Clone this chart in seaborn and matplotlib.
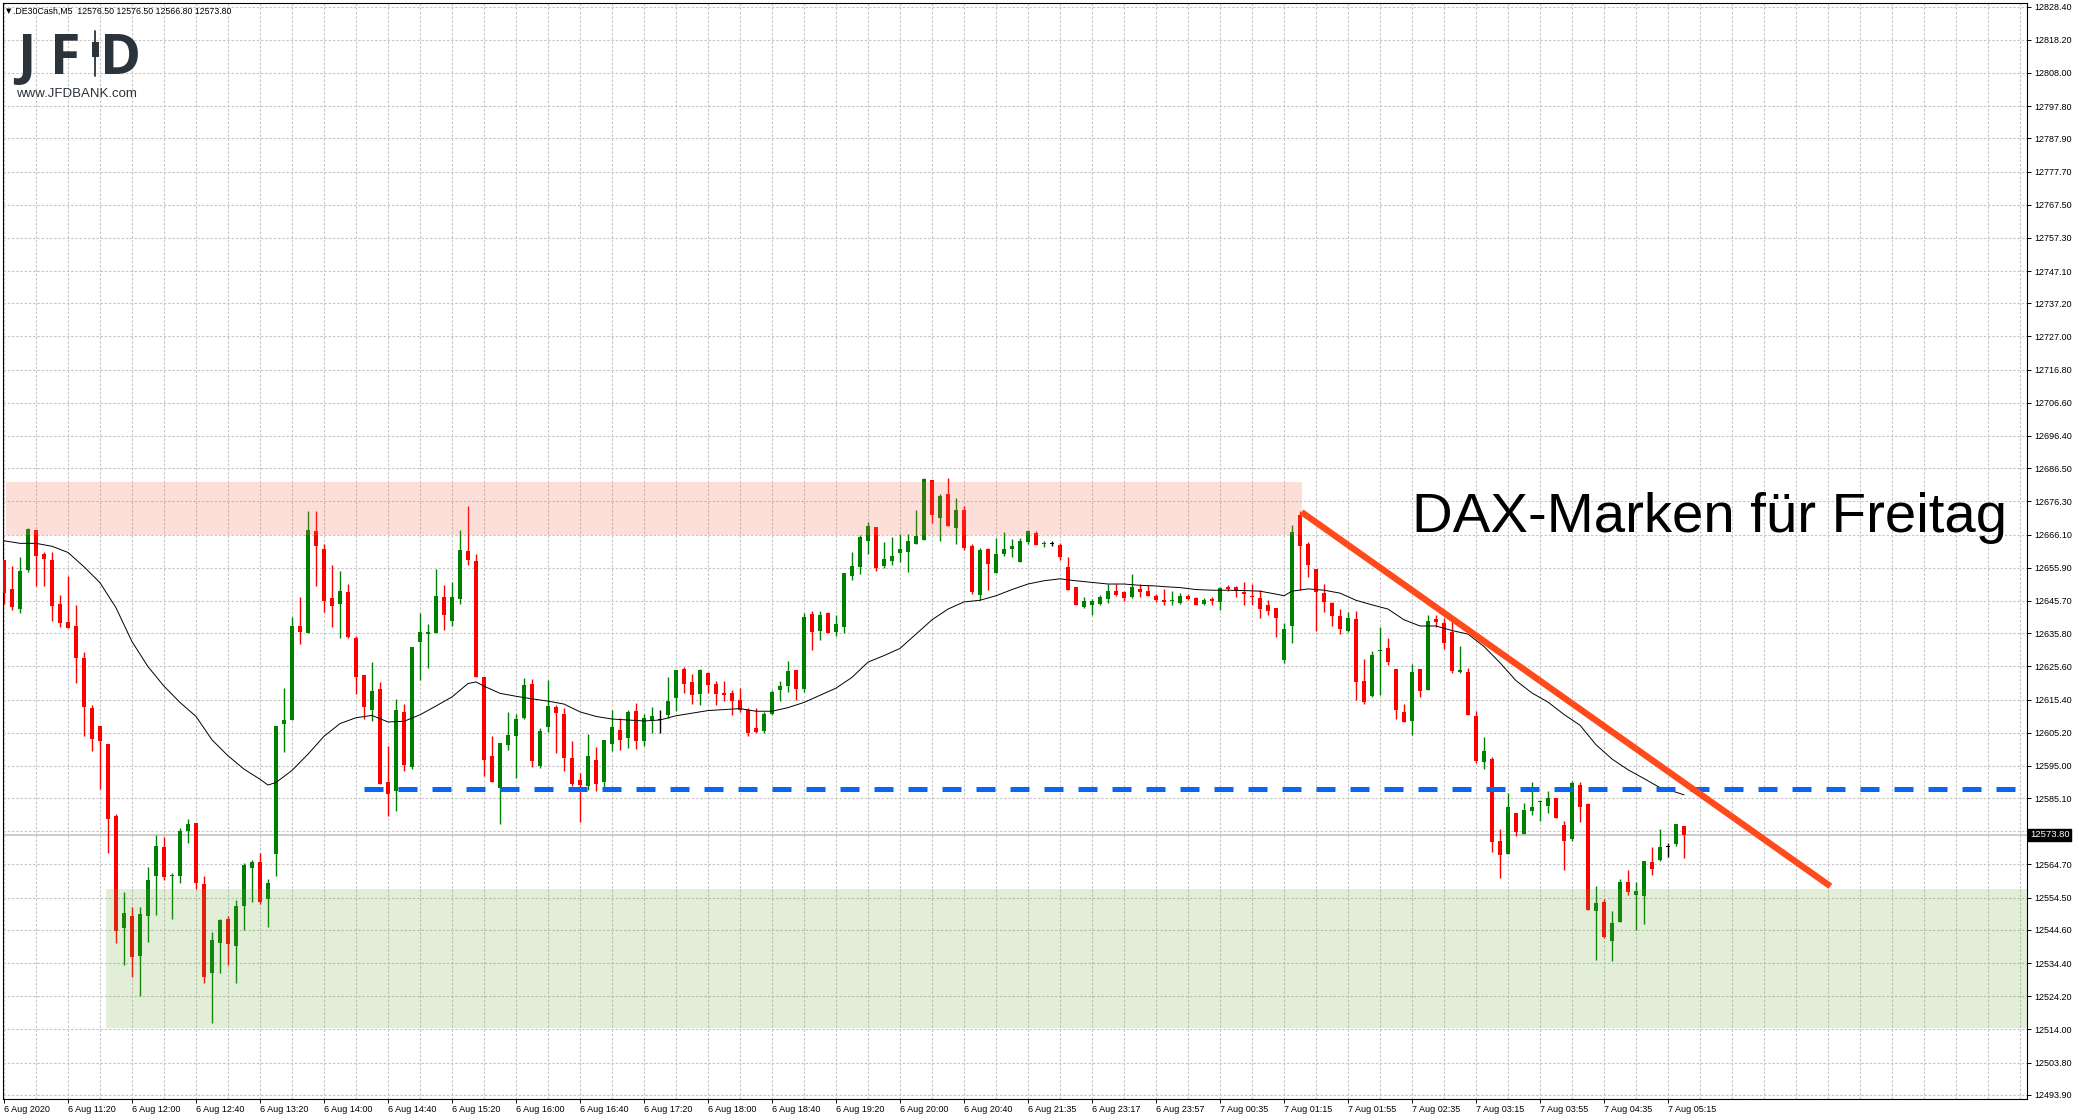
import matplotlib
matplotlib.use("Agg")
import matplotlib.pyplot as plt
import matplotlib.transforms as mtransforms
from matplotlib.patches import Rectangle
from matplotlib.lines import Line2D
import numpy as np
import pandas as pd
import seaborn as sns

# --- DE30 M5 candles, 6 Aug 10:40 -> 7 Aug 05:25 ---
opens = [12658.4, 12649.3, 12643.3, 12655.1, 12667.4, 12660.1, 12658.2, 12644.7, 12639.2, 12637.9,
         12628.1, 12612.8, 12607.3, 12601.7, 12579.7, 12545.3, 12548.9, 12536.6, 12548.7, 12561.0,
         12570.1, 12561.1, 12561.0, 12575.0, 12577.5, 12558.7, 12531.2, 12540.7, 12548.0, 12539.7,
         12552.0, 12563.7, 12565.5, 12554.2, 12568.0, 12608.0, 12609.1, 12637.9, 12635.7, 12667.1,
         12661.6, 12646.6, 12644.7, 12648.4, 12634.3, 12622.9, 12612.2, 12618.6, 12590.1, 12587.3,
         12611.6, 12594.8, 12633.2, 12635.4, 12635.7, 12646.9, 12639.4, 12646.4, 12660.9, 12657.9,
         12622.3, 12598.0, 12588.1, 12601.4, 12604.1, 12609.8, 12620.1, 12595.0, 12606.9, 12613.1,
         12610.9, 12597.3, 12590.8, 12588.8, 12596.9, 12589.9, 12601.7, 12606.0, 12603.6, 12611.8,
         12602.7, 12609.1, 12609.0, 12610.7, 12616.0, 12624.7, 12620.9, 12617.1, 12623.4, 12620.3,
         12617.3, 12617.3, 12615.1, 12612.3, 12606.5, 12605.8, 12611.0, 12618.4, 12619.5, 12624.4,
         12618.6, 12641.7, 12636.5, 12642.0, 12636.2, 12637.6, 12653.5, 12656.2, 12664.1, 12668.5,
         12656.3, 12658.0, 12660.4, 12660.7, 12663.1, 12664.3, 12682.9, 12671.1, 12678.7, 12668.2,
         12673.7, 12662.7, 12647.6, 12661.8, 12654.4, 12660.0, 12661.8, 12657.6, 12663.8, 12666.6,
         12663.2, 12663.2, 12662.9, 12656.0, 12650.1, 12643.7, 12644.6, 12644.8, 12646.2, 12648.7,
         12648.3, 12646.8, 12649.4, 12648.9, 12647.3, 12645.9, 12645.6, 12645.1, 12647.3, 12646.5,
         12644.8, 12646.2, 12645.4, 12650.1, 12650.1, 12648.3, 12647.3, 12646.5, 12644.3, 12643.4,
         12627.5, 12638.0, 12672.2, 12663.2, 12655.6, 12648.1, 12645.1, 12641.2, 12636.4, 12640.2,
         12621.0, 12616.5, 12630.3, 12631.1, 12624.8, 12611.7, 12608.9, 12624.8, 12618.3, 12640.2,
         12639.0, 12636.0, 12624.0, 12624.0, 12610.3, 12596.2, 12597.1, 12571.9, 12567.8, 12580.6,
         12574.1, 12581.2, 12583.9, 12582.8, 12585.0, 12576.8, 12572.4, 12589.1, 12583.2, 12550.5,
         12553.2, 12541.2, 12547.0, 12559.2, 12555.4, 12555.1, 12565.6, 12566.0, 12570.0, 12571.0,
         12576.5]
highs = [12658.4, 12656.3, 12659.2, 12668.1, 12667.4, 12660.8, 12660.8, 12647.5, 12653.3, 12644.4,
         12629.9, 12613.7, 12607.3, 12601.7, 12580.3, 12556.1, 12551.7, 12551.5, 12564.0, 12573.9,
         12573.2, 12562.1, 12575.8, 12578.7, 12577.5, 12561.1, 12544.0, 12548.0, 12548.7, 12553.7,
         12565.1, 12566.2, 12568.3, 12560.2, 12607.2, 12618.9, 12640.9, 12646.9, 12673.2, 12673.2,
         12663.1, 12656.8, 12654.8, 12651.0, 12634.8, 12622.9, 12626.9, 12620.8, 12601.0, 12615.5,
         12614.0, 12631.5, 12642.0, 12638.7, 12655.5, 12650.5, 12651.5, 12667.4, 12674.8, 12660.1,
         12622.3, 12604.1, 12601.9, 12611.6, 12610.9, 12622.0, 12621.7, 12606.6, 12621.3, 12613.8,
         12612.9, 12602.5, 12592.9, 12604.7, 12600.8, 12602.8, 12612.1, 12609.6, 12612.3, 12614.2,
         12610.9, 12613.2, 12612.3, 12622.2, 12624.4, 12625.5, 12623.1, 12624.7, 12623.9, 12621.1,
         12621.1, 12618.4, 12618.9, 12612.9, 12612.9, 12611.6, 12618.4, 12621.1, 12627.2, 12624.4,
         12642.0, 12642.5, 12642.5, 12642.3, 12641.4, 12654.3, 12660.6, 12665.9, 12669.9, 12668.5,
         12663.7, 12665.3, 12666.2, 12666.2, 12673.7, 12683.5, 12682.9, 12678.6, 12683.5, 12677.2,
         12674.8, 12663.1, 12662.1, 12662.1, 12664.9, 12666.8, 12664.6, 12664.9, 12667.5, 12667.1,
         12664.2, 12664.0, 12663.5, 12659.1, 12650.1, 12647.0, 12646.2, 12647.6, 12650.9, 12650.9,
         12648.9, 12654.1, 12650.9, 12650.6, 12647.8, 12649.4, 12648.7, 12648.1, 12647.8, 12646.8,
         12646.5, 12646.8, 12650.1, 12650.5, 12650.3, 12651.4, 12650.9, 12649.2, 12645.9, 12643.4,
         12639.0, 12668.9, 12673.3, 12663.8, 12655.6, 12650.9, 12645.4, 12643.2, 12642.4, 12642.6,
         12628.0, 12630.3, 12637.7, 12634.4, 12624.8, 12614.1, 12626.2, 12624.8, 12641.5, 12641.5,
         12640.6, 12639.5, 12631.9, 12625.1, 12611.9, 12603.9, 12597.6, 12575.7, 12586.7, 12580.6,
         12583.6, 12590.0, 12584.5, 12587.2, 12585.0, 12578.1, 12590.5, 12590.0, 12583.7, 12558.2,
         12554.1, 12550.3, 12560.3, 12563.1, 12559.2, 12565.8, 12570.0, 12575.7, 12571.3, 12577.0,
         12576.5]
lows = [12644.7, 12642.8, 12642.0, 12654.6, 12650.2, 12650.2, 12639.6, 12637.6, 12637.5, 12620.6,
        12604.1, 12599.7, 12588.0, 12568.1, 12540.5, 12533.7, 12530.0, 12524.4, 12541.0, 12549.3,
        12560.0, 12547.8, 12559.1, 12571.4, 12557.3, 12528.4, 12516.1, 12531.2, 12533.7, 12528.2,
        12544.7, 12553.1, 12552.6, 12545.6, 12561.3, 12599.4, 12609.1, 12632.4, 12635.7, 12650.4,
        12642.4, 12637.8, 12634.3, 12634.3, 12617.1, 12609.3, 12608.7, 12589.5, 12579.7, 12581.1,
        12593.4, 12593.9, 12621.3, 12625.0, 12635.7, 12636.8, 12637.9, 12644.7, 12656.8, 12622.2,
        12592.0, 12589.9, 12577.2, 12600.0, 12591.4, 12609.4, 12594.8, 12594.2, 12605.5, 12599.1,
        12593.4, 12588.8, 12577.6, 12587.7, 12587.3, 12587.7, 12599.5, 12600.0, 12600.6, 12600.3,
        12601.0, 12605.2, 12605.2, 12609.6, 12611.8, 12617.3, 12614.0, 12613.8, 12617.3, 12613.8,
        12614.9, 12610.7, 12611.6, 12604.3, 12605.2, 12605.2, 12610.7, 12614.9, 12617.7, 12615.1,
        12617.8, 12630.7, 12633.7, 12635.7, 12634.8, 12635.7, 12652.1, 12654.0, 12660.1, 12654.8,
        12655.8, 12656.9, 12657.6, 12654.7, 12663.1, 12664.3, 12669.8, 12664.2, 12668.7, 12663.1,
        12661.3, 12647.8, 12645.9, 12649.0, 12654.4, 12659.4, 12659.1, 12657.6, 12663.1, 12662.9,
        12662.4, 12662.6, 12658.3, 12649.0, 12644.3, 12643.5, 12641.5, 12644.3, 12645.0, 12647.3,
        12645.7, 12646.5, 12646.8, 12647.2, 12645.4, 12644.3, 12644.3, 12644.8, 12646.1, 12644.3,
        12644.6, 12644.3, 12642.9, 12648.9, 12646.8, 12644.3, 12644.3, 12640.4, 12641.3, 12634.6,
        12626.7, 12632.7, 12649.0, 12653.0, 12636.6, 12642.3, 12638.0, 12635.5, 12636.0, 12615.2,
        12614.1, 12616.1, 12616.8, 12625.9, 12609.4, 12608.4, 12604.4, 12616.3, 12618.3, 12637.7,
        12630.8, 12623.4, 12623.6, 12610.6, 12596.0, 12594.0, 12568.6, 12560.6, 12567.8, 12573.5,
        12574.1, 12579.9, 12578.1, 12580.6, 12579.0, 12563.1, 12571.9, 12577.9, 12550.7, 12535.4,
        12542.2, 12535.1, 12547.0, 12555.4, 12544.4, 12546.3, 12561.4, 12565.8, 12566.9, 12570.5,
        12566.8]
closes = [12648.2, 12643.9, 12654.8, 12667.7, 12659.5, 12658.6, 12644.2, 12638.9, 12637.5, 12628.3,
          12613.2, 12603.3, 12602.7, 12578.8, 12544.3, 12549.8, 12536.1, 12549.6, 12560.0, 12570.4,
          12560.7, 12561.5, 12575.0, 12577.1, 12559.1, 12530.0, 12541.6, 12547.6, 12540.1, 12551.9,
          12564.6, 12565.5, 12553.3, 12559.0, 12607.2, 12609.1, 12637.9, 12636.3, 12667.4, 12662.5,
          12645.7, 12644.2, 12648.7, 12634.6, 12622.4, 12613.2, 12618.1, 12589.5, 12586.5, 12612.1,
          12595.3, 12631.5, 12636.2, 12636.2, 12647.1, 12641.4, 12646.9, 12661.3, 12658.3, 12622.4,
          12596.8, 12589.9, 12601.9, 12604.4, 12609.4, 12619.8, 12596.4, 12605.6, 12613.3, 12611.1,
          12597.5, 12589.5, 12589.2, 12598.0, 12589.5, 12602.8, 12607.1, 12603.0, 12611.5, 12602.5,
          12609.8, 12610.4, 12609.0, 12614.9, 12624.4, 12620.3, 12616.8, 12624.4, 12619.8, 12617.1,
          12616.7, 12614.8, 12612.3, 12605.2, 12605.5, 12610.9, 12617.8, 12619.7, 12624.1, 12618.6,
          12640.9, 12636.2, 12641.4, 12635.9, 12638.7, 12654.3, 12656.4, 12665.3, 12668.8, 12655.9,
          12658.7, 12659.6, 12661.8, 12664.2, 12665.7, 12683.2, 12672.0, 12678.1, 12668.7, 12673.6,
          12662.0, 12648.4, 12661.5, 12657.1, 12660.0, 12661.8, 12662.7, 12664.0, 12667.1, 12662.9,
          12663.5, 12663.2, 12659.3, 12649.2, 12644.3, 12645.6, 12645.6, 12646.8, 12648.7, 12647.6,
          12646.5, 12650.1, 12648.3, 12647.2, 12646.1, 12645.4, 12645.8, 12647.3, 12646.2, 12644.5,
          12645.9, 12645.6, 12649.8, 12649.4, 12648.9, 12647.8, 12646.9, 12643.2, 12642.6, 12640.4,
          12637.1, 12666.8, 12662.7, 12656.6, 12648.4, 12645.4, 12641.2, 12637.1, 12640.4, 12620.7,
          12614.6, 12629.2, 12630.7, 12627.0, 12612.1, 12608.6, 12624.0, 12617.9, 12639.5, 12639.1,
          12632.7, 12624.2, 12624.3, 12610.6, 12596.5, 12599.5, 12571.6, 12567.5, 12582.3, 12574.6,
          12581.5, 12582.5, 12584.2, 12585.2, 12579.0, 12571.9, 12589.6, 12582.3, 12550.7, 12552.7,
          12542.5, 12546.6, 12559.2, 12556.2, 12556.5, 12565.8, 12563.3, 12570.2, 12570.0, 12577.0,
          12573.8]

# moving average line, sampled along the chart
ma_bars = [0, 2, 4, 6, 8, 10, 12, 14, 16, 18, 20, 22, 24, 26, 28, 30, 32, 33, 34, 36, 38, 40, 42, 44,
           46, 48, 50, 52, 54, 56, 58, 59, 60, 62, 64, 66, 68, 70, 72, 74, 76, 78, 80, 82, 84, 86, 88,
           90, 92, 94, 96, 98, 100, 102, 104, 106, 108, 110, 112, 114, 116, 118, 120, 122, 124, 126,
           128, 130, 132, 134, 136, 138, 140, 142, 144, 145, 147, 149, 151, 153, 155, 157, 159, 160,
           161, 163, 165, 167, 169, 171, 173, 175, 177, 179, 181, 183, 185, 187, 189, 191, 193, 195,
           197, 199, 201, 203, 205, 207, 209, 210]
ma_vals = [12664.2, 12663.4, 12663.4, 12662.5, 12660.6, 12656.2, 12651.3, 12643.6, 12633.2, 12625.5,
           12619.5, 12614.5, 12610.2, 12603.0, 12598.1, 12594.0, 12590.9, 12589.1, 12589.9, 12593.6,
           12598.6, 12604.1, 12608.0, 12609.8, 12610.5, 12608.5, 12608.7, 12610.7, 12613.4, 12616.2,
           12620.3, 12620.8, 12619.5, 12617.3, 12616.4, 12615.6, 12614.9, 12614.0, 12611.6, 12610.2,
           12609.4, 12609.1, 12608.8, 12609.1, 12610.4, 12611.2, 12612.0, 12612.3, 12612.6, 12611.8,
           12611.8, 12612.9, 12614.5, 12616.7, 12618.9, 12622.2, 12626.9, 12628.9, 12631.1, 12635.5,
           12639.9, 12643.2, 12645.4, 12645.9, 12647.3, 12649.2, 12650.9, 12651.9, 12652.5, 12651.9,
           12651.4, 12650.9, 12650.9, 12650.5, 12650.3, 12650.1, 12649.8, 12649.2, 12649.0, 12649.0,
           12648.9, 12648.7, 12647.8, 12647.3, 12648.7, 12649.4, 12649.0, 12648.1, 12645.9, 12644.5,
           12643.2, 12639.9, 12638.0, 12638.0, 12636.6, 12635.5, 12631.7, 12626.7, 12621.2, 12617.4,
           12614.6, 12610.8, 12607.5, 12601.5, 12597.1, 12593.8, 12591.1, 12588.3, 12586.9, 12586.1]

price_ticks = [12828.40, 12818.20, 12808.00, 12797.80, 12787.90, 12777.70, 12767.50, 12757.30,
               12747.10, 12737.20, 12727.00, 12716.80, 12706.60, 12696.40, 12686.50, 12676.30,
               12666.10, 12655.90, 12645.70, 12635.80, 12625.60, 12615.40, 12605.20, 12595.00,
               12585.10, 12574.90, 12564.70, 12554.50, 12544.60, 12534.40, 12524.20, 12514.00,
               12503.80, 12493.90]
time_labels = ["6 Aug 2020", "6 Aug 11:20", "6 Aug 12:00", "6 Aug 12:40", "6 Aug 13:20",
               "6 Aug 14:00", "6 Aug 14:40", "6 Aug 15:20", "6 Aug 16:00", "6 Aug 16:40",
               "6 Aug 17:20", "6 Aug 18:00", "6 Aug 18:40", "6 Aug 19:20", "6 Aug 20:00",
               "6 Aug 20:40", "6 Aug 21:35", "6 Aug 23:17", "6 Aug 23:57", "7 Aug 00:35",
               "7 Aug 01:15", "7 Aug 01:55", "7 Aug 02:35", "7 Aug 03:15", "7 Aug 03:55",
               "7 Aug 04:35", "7 Aug 05:15"]

# drawn annotations
resist_zone = [0.25, 162.2, 12666.0, 12682.4]   # bar from, bar to, low, high
support_zone = [12.8, 253.0, 12514.5, 12557.0]
support_line = [45.0, 253.0, 12588.0]
trend_bars = [162.2, 228.3]
trend_prices = [12673.0, 12558.0]
last_price = 12573.80
header = ".DE30Cash,M5  12576.50 12576.50 12566.80 12573.80"
title = "DAX-Marken für Freitag"

W, H = 2079, 1120
sns.set_style("white")
plt.rcParams["font.family"] = ["Liberation Sans", "DejaVu Sans"]

fig = plt.figure(figsize=(W / 100, H / 100), dpi=100)
ax = fig.add_axes([3 / W, 21 / H, 2024 / W, 1096 / H])
ax.set_xlim(-0.125, 252.875)
ax.set_ylim(12492.6, 12829.5)

# grid like the terminal: dashed, every price label and every 4 bars
for p in price_ticks:
    ax.axhline(p, color="#c6c6c6", lw=0.8, ls=(0, (2.2, 1.6)), zorder=0)
for b in range(0, 253, 4):
    ax.axvline(b, color="#c6c6c6", lw=0.8, ls=(0, (2.2, 1.6)), zorder=0)

ax.axhline(last_price, color="#bdbdbd", lw=1.1, zorder=1)

df = pd.DataFrame({"open": opens, "high": highs, "low": lows, "close": closes})
df["bar"] = np.arange(len(df))
colors = np.where(df.close > df.open, "#008000",
                  np.where(df.close < df.open, "#ff0000", "#000000"))
ax.vlines(df.bar, df.low, df.high, colors=colors, lw=1.0, zorder=2)
body_lo = df[["open", "close"]].min(axis=1)
body_h = (df.close - df.open).abs().clip(lower=0.35)
ax.bar(df.bar, body_h, bottom=body_lo, width=0.62, color=colors, lw=0, zorder=3)

sns.lineplot(x=ma_bars, y=ma_vals, color="black", lw=0.7, ax=ax, zorder=4)

ax.add_patch(Rectangle((resist_zone[0], resist_zone[2]), resist_zone[1] - resist_zone[0],
                       resist_zone[3] - resist_zone[2], facecolor=(0.97, 0.43, 0.33),
                       alpha=0.22, lw=0, zorder=5))
ax.add_patch(Rectangle((support_zone[0], support_zone[2]), support_zone[1] - support_zone[0],
                       support_zone[3] - support_zone[2], facecolor=(0.43, 0.67, 0.24),
                       alpha=0.2, lw=0, zorder=5))

ax.plot(support_line[:2], [support_line[2]] * 2, color="#0a66f2", lw=3.6,
        ls=(0, (3.8, 3.0)), solid_capstyle="butt", zorder=6)
ax.plot(trend_bars, trend_prices, color="#ff4a1c", lw=4.6, solid_capstyle="butt", zorder=7)

ax.text(176.0, 12667.0, title, fontsize=40.6, color="black", ha="left", va="baseline", zorder=8)

# axes styling
for s in ax.spines.values():
    s.set_visible(True)
    s.set_color("black")
    s.set_linewidth(0.8)
ax.yaxis.tick_right()
ax.set_yticks(price_ticks)
ax.set_yticklabels([f"{p:.2f}" for p in price_ticks])
ax.tick_params(axis="y", direction="out", length=3, width=0.7, pad=2, labelsize=6.5,
               colors="black", right=True, left=False)
ax.set_xticks(range(0, 8 * len(time_labels), 8))
ax.set_xticklabels(time_labels)
ax.tick_params(axis="x", direction="out", length=3, width=0.7, pad=1.5, labelsize=6.5,
               colors="black", bottom=True)
for lab in ax.get_xticklabels():
    lab.set_horizontalalignment("left")
ax.set_xlabel("")
ax.set_ylabel("")

trans = mtransforms.blended_transform_factory(ax.transAxes, ax.transData)
ax.text(1.0015, last_price, f"{last_price:.2f}", transform=trans, color="white", fontsize=6.8,
        ha="left", va="center", clip_on=False, zorder=10,
        bbox=dict(boxstyle="square,pad=0.18", fc="black", ec="black"))

# header and logo
fig.text(6 / W, 1 - 11 / H, "▼", fontsize=5, color="black", va="center",
         family=["DejaVu Sans"])
fig.text(13 / W, 1 - 11 / H, header, fontsize=6.3, color="black", va="center")

logo_c = "#2b333b"
for letter, lx in [("J", 17), ("F", 50), ("D", 100)]:
    fig.text(lx / W, 1 - 74 / H, letter, fontsize=40, fontweight="bold", color=logo_c,
             va="baseline", ha="left", family=["Open Sans", "DejaVu Sans"])
fig.add_artist(Line2D([95.0 / W, 95.0 / W], [1 - 31 / H, 1 - 76 / H], color=logo_c, lw=1.3,
                      transform=fig.transFigure))
fig.add_artist(Rectangle((91.5 / W, 1 - 57 / H), 7 / W, 15 / H, facecolor=logo_c, lw=0,
                         transform=fig.transFigure))
fig.text(16 / W, 1 - 97 / H, "www.JFDBANK.com", fontsize=9.5, color=logo_c, va="baseline",
         ha="left")

fig.savefig("out.png", dpi=100)
